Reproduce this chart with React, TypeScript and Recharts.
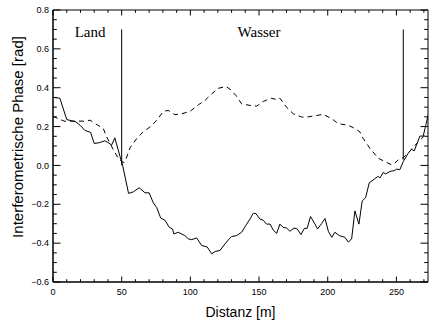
import React from 'react';
import { LineChart, Line, XAxis, YAxis, ReferenceLine, ReferenceDot, ReferenceArea, Label } from 'recharts';

// Solid curve (distance [m], phase [rad])
const solidX = [0, 5, 10, 13.6, 16.7, 20, 23.3, 27.4, 30, 33.7, 37.8, 40, 42.7, 45, 48.8, 50.7, 55, 58.5, 62.8, 67, 70, 73, 75.5, 78.4, 81.5, 84.7, 87, 88, 91.2, 96, 98.5, 101, 104.6, 108.2, 112.3, 115.5, 118, 121.5, 125.2, 128.3, 130, 133.7, 137.3, 141, 143.4, 145.8, 147.7, 150.7, 153, 155.5, 158, 160.3, 162.8, 165.2, 167.6, 170, 172.5, 175.4, 177.8, 180.5, 183, 185, 187.5, 190, 192.6, 195.5, 198, 200.5, 203, 205.2, 208.4, 212.5, 215, 217.4, 219.8, 222.7, 225.1, 227.6, 230.2, 234.3, 236.8, 238, 240.4, 242.1, 245.3, 248.2, 250.1, 252.5, 255, 258.6, 261, 263, 267.1, 269.5, 271.5, 273];
const solidY = [0.35, 0.346, 0.236, 0.23, 0.224, 0.205, 0.18, 0.17, 0.113, 0.117, 0.127, 0.118, 0.105, 0.142, 0.046, 0.0, -0.144, -0.136, -0.115, -0.141, -0.141, -0.192, -0.217, -0.271, -0.282, -0.319, -0.327, -0.353, -0.344, -0.361, -0.378, -0.382, -0.373, -0.412, -0.42, -0.455, -0.443, -0.438, -0.404, -0.378, -0.366, -0.361, -0.344, -0.302, -0.276, -0.246, -0.248, -0.276, -0.282, -0.302, -0.302, -0.332, -0.35, -0.302, -0.319, -0.322, -0.339, -0.322, -0.327, -0.356, -0.324, -0.324, -0.263, -0.293, -0.327, -0.3, -0.273, -0.34, -0.37, -0.344, -0.361, -0.37, -0.395, -0.378, -0.234, -0.302, -0.183, -0.166, -0.09, -0.068, -0.056, -0.065, -0.036, -0.044, -0.031, -0.027, -0.019, -0.022, 0.02, 0.063, 0.083, 0.075, 0.151, 0.151, 0.21, 0.258];

// Dashed curve
const dashedX = [0, 4, 8.7, 15, 23.3, 27, 32, 36.6, 39, 44, 47.5, 50, 51.7, 53, 56, 61, 65.7, 70.6, 75.5, 80.3, 83.9, 88.8, 93.7, 99.7, 105.8, 110.6, 115.5, 120.3, 125.9, 128.8, 133.2, 137.3, 143.4, 148.2, 153, 159, 162.8, 165.2, 170, 174.9, 181, 184.6, 189.5, 196.7, 202.8, 207.6, 214.9, 219.8, 223.4, 225.8, 230.7, 236.8, 241.6, 246.5, 248.9, 251.3, 255, 260, 265, 270, 273];
const dashedY = [0.253, 0.24, 0.227, 0.228, 0.228, 0.233, 0.21, 0.19, 0.148, 0.08, 0.037, 0.02, 0.015, 0.03, 0.09, 0.139, 0.173, 0.198, 0.232, 0.278, 0.283, 0.261, 0.266, 0.278, 0.312, 0.334, 0.368, 0.397, 0.406, 0.393, 0.36, 0.317, 0.309, 0.305, 0.329, 0.346, 0.339, 0.346, 0.3, 0.266, 0.249, 0.249, 0.254, 0.263, 0.241, 0.215, 0.207, 0.19, 0.173, 0.139, 0.088, 0.037, 0.02, 0.003, 0.012, 0.029, 0.04, 0.075, 0.115, 0.15, 0.17];

const xDomain: [number, number] = [0, 273];
const yDomain: [number, number] = [-0.6, 0.8];
const xTicks = [0, 10, 20, 30, 40, 50, 60, 70, 80, 90, 100, 110, 120, 130, 140, 150, 160, 170, 180, 190, 200, 210, 220, 230, 240, 250, 260, 270];
const xMajor = [0, 50, 100, 150, 200, 250];
const yTicks = [-0.6, -0.55, -0.5, -0.45, -0.4, -0.35, -0.3, -0.25, -0.2, -0.15, -0.1, -0.05, 0, 0.05, 0.1, 0.15, 0.2, 0.25, 0.3, 0.35, 0.4, 0.45, 0.5, 0.55, 0.6, 0.65, 0.7, 0.75, 0.8];
const yMajor = [-0.6, -0.4, -0.2, 0, 0.2, 0.4, 0.6, 0.8];

const regions = [
  { name: 'Land', x: 27, y: 0.66 },
  { name: 'Wasser', x: 150, y: 0.66 },
];
const boundaries = [
  { x: 50, y0: 0, y1: 0.7 },
  { x: 255, y0: 0.03, y1: 0.7 },
];

const solidData = solidX.map((x, i) => ({ x, v: solidY[i] }));
const dashedData = dashedX.map((x, i) => ({ x, v: dashedY[i] }));

// layout
const W = 429;
const H = 325;
const M = { top: 10, right: 1, bottom: 0, left: 0 };
const X_AXIS_H = 43;
const Y_AXIS_W = 53;
const PLOT_W = W - M.left - M.right - Y_AXIS_W;
const PLOT_H = H - M.top - M.bottom - X_AXIS_H;

const SANS = '"Liberation Sans", Arial, Helvetica, sans-serif';
const SERIF = '"Liberation Serif", "Times New Roman", serif';

const isMajorX = (v: number) => xMajor.includes(v);
const isMajorY = (v: number) => yMajor.some((m) => Math.abs(m - v) < 1e-6);
const fmtY = (v: number) => (Math.abs(v) < 1e-9 ? '0.0' : v.toFixed(1).replace('-', '\u2212'));

const XTick = (props: any) => {
  const x = Number(props.x);
  const y = Number(props.y);
  const v = props.payload.value;
  const major = isMajorX(v);
  const len = major ? 5.5 : 2.8;
  const top = y - PLOT_H;
  return (
    <g>
      <line x1={x} x2={x} y1={y} y2={y - len} stroke="#000" strokeWidth={1} />
      <line x1={x} x2={x} y1={top} y2={top + len} stroke="#000" strokeWidth={1} />
      {major && (
        <text x={x} y={y + 13} textAnchor="middle" fontSize={9} fontFamily={SANS} fill="#000" stroke="none">
          {v}
        </text>
      )}
    </g>
  );
};

const YTick = (props: any) => {
  const x = Number(props.x);
  const y = Number(props.y);
  const v = props.payload.value;
  const major = isMajorY(v);
  const len = major ? 7.5 : 3.8;
  const right = x + PLOT_W;
  return (
    <g>
      <line x1={x} x2={x + len} y1={y} y2={y} stroke="#000" strokeWidth={1} />
      <line x1={right} x2={right - len} y1={y} y2={y} stroke="#000" strokeWidth={1} />
      {major && (
        <text x={x - 4} y={y} dy="0.35em" textAnchor="end" fontSize={9} fontFamily={SANS} fill="#000" stroke="none">
          {fmtY(v)}
        </text>
      )}
    </g>
  );
};

const YTitle = (props: any) => {
  const vb = props.viewBox || { x: 0, y: 0, width: 0, height: 0 };
  const cx = Number(vb.x) + 23;
  const cy = Number(vb.y) + Number(vb.height) / 2 - 9;
  return (
    <text x={cx} y={cy} transform={`rotate(-90 ${cx} ${cy})`} textAnchor="middle" fontSize={15} fontFamily={SANS} fill="#000">
      Interferometrische Phase [rad]
    </text>
  );
};

const XTitle = (props: any) => {
  const vb = props.viewBox || { x: 0, y: 0, width: 0, height: 0 };
  const cx = Number(vb.x) + Number(vb.width) / 2;
  const cy = Number(vb.y) + 35;
  return (
    <text x={cx} y={cy} textAnchor="middle" fontSize={14} fontFamily={SANS} fill="#000">
      Distanz [m]
    </text>
  );
};

export default function App() {
  return (
    <div style={{ position: 'absolute', left: 0, top: 0, width: W, height: H, background: '#fff' }}>
      <LineChart width={W} height={H} margin={M}>
        <XAxis
          type="number"
          dataKey="x"
          domain={xDomain}
          ticks={xTicks}
          interval={0}
          height={X_AXIS_H}
          tickSize={0}
          tickMargin={0}
          tickLine={false}
          tick={<XTick />}
          axisLine={{ stroke: '#000' }}
          allowDataOverflow
        >
          <Label content={<XTitle />} />
        </XAxis>
        <YAxis
          type="number"
          dataKey="v"
          domain={yDomain}
          ticks={yTicks}
          interval={0}
          width={Y_AXIS_W}
          tickSize={0}
          tickMargin={0}
          tickLine={false}
          tick={<YTick />}
          axisLine={{ stroke: '#000' }}
          allowDataOverflow
        >
          <Label content={<YTitle />} />
        </YAxis>
        <ReferenceArea x1={xDomain[0]} x2={xDomain[1]} y1={yDomain[0]} y2={yDomain[1]} fill="none" fillOpacity={0} stroke="#000" strokeWidth={1} strokeOpacity={1} />
        {boundaries.map((b) => (
          <ReferenceLine
            key={b.x}
            segment={[{ x: b.x, y: b.y0 }, { x: b.x, y: b.y1 }]}
            stroke="#000"
            strokeWidth={1}
          />
        ))}
        {regions.map((r) => (
          <ReferenceDot
            key={r.name}
            x={r.x}
            y={r.y}
            r={0}
            shape={(p: any) => (
              <text x={p.cx} y={p.cy} textAnchor="middle" fontSize={15} fontFamily={SERIF} fill="#000">
                {r.name}
              </text>
            )}
          />
        ))}
        <Line
          data={dashedData}
          dataKey="v"
          type="linear"
          stroke="#000"
          strokeWidth={1}
          strokeDasharray="5 4"
          dot={false}
          isAnimationActive={false}
        />
        <Line
          data={solidData}
          dataKey="v"
          type="linear"
          stroke="#000"
          strokeWidth={1}
          dot={false}
          isAnimationActive={false}
        />
      </LineChart>
    </div>
  );
}
